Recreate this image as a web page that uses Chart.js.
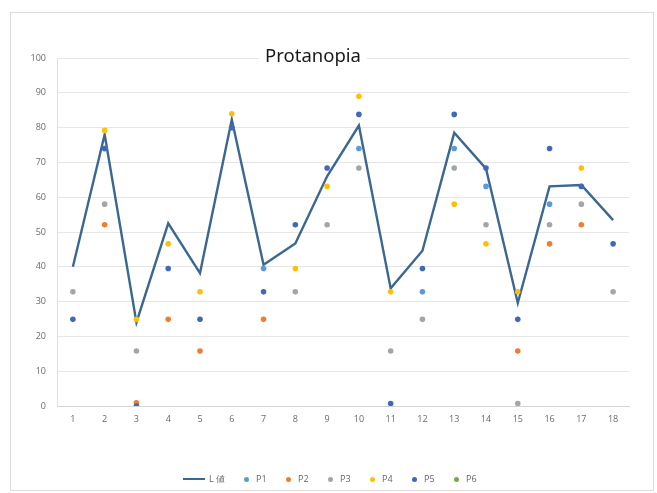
<!DOCTYPE html>
<html>
<head>
<meta charset="utf-8">
<script src="https://cdn.jsdelivr.net/npm/chart.js@4.4.1/dist/chart.umd.min.js"></script>
<style>
	body { margin: 0; background: #fff; }
	#cadre { position: absolute; left: 10px; top: 12px; width: 642px; height: 477px; border: 1px solid #dcdcdc; }
	#zone { position: absolute; left: 0; top: 0; width: 657px; height: 493px; }
	#legende { position: absolute; left: 183px; top: 471px; font: 9px "Open Sans", sans-serif; color: #666; white-space: nowrap; }
	#legende .item { display: inline-block; vertical-align: middle; }
	#legende .trait { display: inline-block; width: 22px; height: 2px; vertical-align: middle; margin-right: 4px; }
	#legende .point { display: inline-block; width: 5px; height: 5px; border-radius: 50%; vertical-align: middle; margin-right: 7px; }
</style>
</head>
<body>
<div id="cadre"></div>
<div id="zone"><canvas id="graphique"></canvas></div>
<div id="legende"></div>
<script>
// Abscisses 1 à 18
const categories = ['1', '2', '3', '4', '5', '6', '7', '8', '9', '10', '11', '12', '13', '14', '15', '16', '17', '18'];
const nomsSeries = ['L 値', 'P1', 'P2', 'P3', 'P4', 'P5', 'P6'];
const couleurs = ['#3b6791', '#5b9bd5', '#ed7d31', '#a5a5a5', '#ffc000', '#4068b8', '#70ad47'];

// Courbe L値
const valeursL = [40, 78, 24, 52.5, 38.2, 82.3, 40.6, 46.7, 66, 80.6, 33.8, 44.6, 78.5, 68.2, 29.6, 63.1, 63.5, 53.4];
// Points P1 à P6 (null = pas de point)
const valeursP1 = [null, 74, null, null, null, 80, 39.5, null, null, 74, null, 32.8, 74, 63.1, null, 58, null, null];
const valeursP2 = [null, 52.1, 0.9, 24.9, 15.8, null, 24.9, null, null, null, null, null, null, null, 15.8, 46.6, 52.1, null];
const valeursP3 = [32.8, 58, 15.8, null, null, null, null, 32.8, 52.1, 68.4, 15.8, 24.9, 68.4, 52.1, 0.7, 52.1, 58, 32.8];
const valeursP4 = [null, 79.2, 24.9, 46.6, 32.8, 84, null, 39.5, 63.1, 89, 32.8, null, 58, 46.6, 32.8, null, 68.4, null];
const valeursP5 = [24.9, 74, 0, 39.5, 24.9, 80, 32.8, 52.1, 68.4, 83.8, 0.7, 39.5, 83.8, 68.4, 24.9, 74, 63.1, 46.6];
const valeursP6 = [null, null, null, null, null, null, null, null, null, null, null, null, null, null, null, null, null, null];

// Graduations de l'axe vertical
const ticksY = [0, 10, 20, 30, 40, 50, 60, 70, 80, 90, 100];

const titre = 'Protanopia';

const seriesPoints = [valeursP1, valeursP2, valeursP3, valeursP4, valeursP5, valeursP6];

const datasets = [
	{
		label: nomsSeries[0],
		data: valeursL,
		borderColor: couleurs[0],
		borderWidth: 2.4,
		pointRadius: 0,
		tension: 0,
		order: 7,
	},
];
for (let i = 0; i < seriesPoints.length; i++) {
	datasets.push({
		label: nomsSeries[i + 1],
		data: seriesPoints[i],
		showLine: false,
		pointRadius: 2.8,
		pointBorderWidth: 0,
		pointBackgroundColor: couleurs[i + 1],
		borderColor: couleurs[i + 1],
		order: 6 - i,
	});
}

// Titre posé sur la ligne 100, avec fond blanc
const pluginTitre = {
	id: 'titre',
	afterDraw(chart) {
		const ctx = chart.ctx;
		ctx.save();
		ctx.font = '18.5px "Noto Sans", sans-serif';
		const largeur = ctx.measureText(titre).width;
		const x = 313;
		const y = 57;
		ctx.fillStyle = '#fff';
		ctx.fillRect(x - largeur / 2 - 6, y - 11, largeur + 12, 22);
		ctx.fillStyle = '#1a1a1a';
		ctx.textAlign = 'center';
		ctx.textBaseline = 'middle';
		ctx.fillText(titre, x, y);
		ctx.restore();
	},
};

new Chart(document.querySelector('#graphique'), {
	type: 'line',
	data: { labels: categories, datasets: datasets },
	options: {
		responsive: true,
		maintainAspectRatio: false,
		animation: false,
		layout: { padding: { top: 58, right: 28, left: 0, bottom: 57 } },
		plugins: {
			legend: { display: false },
			tooltip: { enabled: false },
		},
		scales: {
			x: {
				offset: true,
				grid: { display: false, drawTicks: false },
				border: { display: true, color: '#d4d4d4' },
				ticks: { color: '#6a6a6a', font: { size: 9, family: '"Open Sans", sans-serif' }, padding: 8 },
				afterFit(scale) { scale.height = 30; },
			},
			y: {
				min: 0,
				max: 100,
				afterBuildTicks(scale) { scale.ticks = ticksY.map((v) => ({ value: v })); },
				grid: { color: '#e6e6e6', drawTicks: false },
				border: { display: true, color: '#e0e0e0' },
				ticks: { color: '#6a6a6a', font: { size: 9, family: '"Open Sans", sans-serif' }, padding: 11 },
				afterFit(scale) { scale.width = 57; },
			},
		},
	},
	plugins: [pluginTitre],
});

// Légende en HTML sous le graphique
const legende = document.querySelector('#legende');
for (let i = 0; i < nomsSeries.length; i++) {
	const item = document.createElement('span');
	item.classList.add('item');
	if (i === 0) {
		item.style.width = '61px';
		item.innerHTML = `<span class="trait" style="background:${couleurs[0]}"></span>${nomsSeries[0]}`;
	} else {
		item.style.width = '42px';
		item.innerHTML = `<span class="point" style="background:${couleurs[i]}"></span>${nomsSeries[i]}`;
	}
	legende.appendChild(item);
}
</script>
</body>
</html>
